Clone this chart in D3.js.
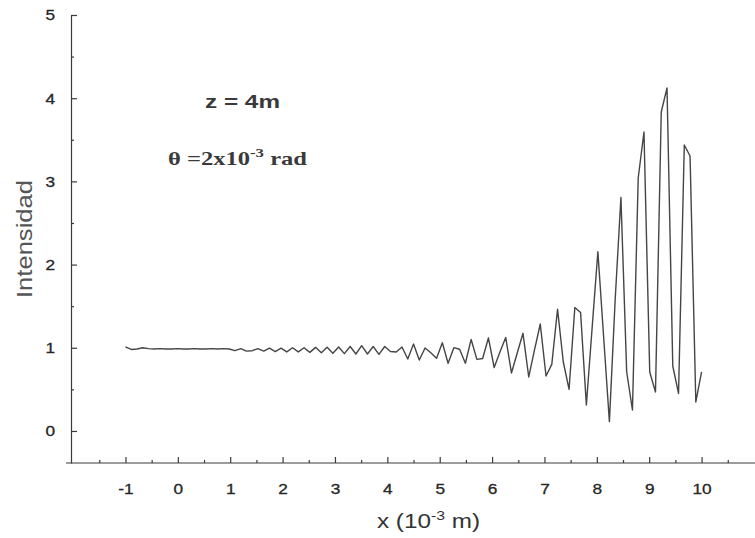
<!DOCTYPE html>
<html>
<head>
<meta charset="utf-8">
<script src="https://cdn.jsdelivr.net/npm/d3@7"></script>
<style>
  body { margin: 0; background: #fff; }
  svg { display: block; }
</style>
</head>
<body>
<script>
// sample positions along x (10^-3 m)
const xValues = [
  -1, -0.89, -0.78, -0.67, -0.56, -0.45, -0.34, -0.23, -0.12, -0.01,
  0.1, 0.21, 0.32, 0.43, 0.54, 0.65, 0.76, 0.87, 0.98, 1.09,
  1.2, 1.31, 1.42, 1.53, 1.64, 1.75, 1.86, 1.97, 2.08, 2.19,
  2.3, 2.41, 2.52, 2.63, 2.74, 2.85, 2.96, 3.07, 3.18, 3.29,
  3.4, 3.51, 3.62, 3.73, 3.84, 3.95, 4.06, 4.17, 4.28, 4.39,
  4.5, 4.61, 4.72, 4.83, 4.94, 5.05, 5.16, 5.27, 5.38, 5.49,
  5.6, 5.71, 5.82, 5.93, 6.04, 6.15, 6.26, 6.37, 6.48, 6.59,
  6.7, 6.81, 6.92, 7.03, 7.14, 7.25, 7.36, 7.47, 7.58, 7.69,
  7.8, 7.91, 8.02, 8.13, 8.24, 8.35, 8.46, 8.57, 8.68, 8.79,
  8.9, 9.01, 9.12, 9.23, 9.34, 9.45, 9.56, 9.67, 9.78, 9.89,
  10.0
];

// intensity
const intensity = [
  1.01, 0.98, 0.985, 1.0, 0.99, 0.985, 0.99, 0.985, 0.985, 0.99,
  0.985, 0.985, 0.99, 0.985, 0.985, 0.99, 0.985, 0.99, 0.985, 0.965,
  0.99, 0.96, 0.965, 0.99, 0.96, 0.995, 0.955, 0.995, 0.95, 1.0,
  0.95, 1.0, 0.945, 1.005, 0.94, 1.005, 0.935, 1.01, 0.93, 1.015,
  0.925, 1.025, 0.925, 1.015, 0.92, 1.015, 0.955, 0.95, 1.01, 0.865,
  1.045, 0.853, 0.998, 0.94, 0.875, 1.061, 0.814, 1.001, 0.982, 0.814,
  1.10, 0.86, 0.871, 1.118, 0.763, 0.95, 1.124, 0.697, 0.937, 1.174,
  0.649, 0.974, 1.286, 0.661, 0.80, 1.463, 0.829, 0.501, 1.484, 1.424,
  0.3125, 1.238, 2.155, 1.13, 0.112, 1.575, 2.806, 0.709, 0.252, 3.041,
  3.594, 0.709, 0.469, 3.834, 4.123, 0.781, 0.451, 3.438, 3.305, 0.349,
  0.709
];

const xMajorTicks = [-1, 0, 1, 2, 3, 4, 5, 6, 7, 8, 9, 10];
const xMinorTicks = [-1.5, -0.5, 0.5, 1.5, 2.5, 3.5, 4.5, 5.5, 6.5, 7.5, 8.5, 9.5, 10.5];
const yMajorTicks = [0, 1, 2, 3, 4, 5];
const yMinorTicks = [0.5, 1.5, 2.5, 3.5, 4.5];

const width = 755;
const height = 538;
const ink = "#3a3a3a";
const sans = "'Liberation Sans', Arial, Helvetica, sans-serif";
const serif = "'Liberation Serif', 'Times New Roman', serif";

const svg = d3.select("body")
  .append("svg")
  .attr("width", width)
  .attr("height", height);

const x = d3.scaleLinear().domain([-2.04, 11.02]).range([71, 755]);
const y = d3.scaleLinear().domain([-0.385, 5]).range([463, 15]);

// x axis (ticks point inward / up)
svg.append("g")
  .attr("transform", `translate(0,${y(-0.385)})`)
  .call(d3.axisBottom(x).tickValues(xMinorTicks).tickSize(-3).tickFormat(""))
  .call(g => g.select(".domain").remove());

const xAxis = svg.append("g")
  .attr("transform", `translate(0,${y(-0.385)})`)
  .call(d3.axisBottom(x).tickValues(xMajorTicks).tickSize(-6).tickPadding(20).tickSizeOuter(0)
    .tickFormat(d => String(d)));
xAxis.select(".domain").attr("d", `M66,0H${width}`);

// y axis (ticks point right)
svg.append("g")
  .attr("transform", `translate(${x(-2.04)},0)`)
  .call(d3.axisLeft(y).tickValues(yMinorTicks).tickSize(-3).tickFormat(""))
  .call(g => g.select(".domain").remove());

const yAxis = svg.append("g")
  .attr("transform", `translate(${x(-2.04)},0)`)
  .call(d3.axisLeft(y).tickValues(yMajorTicks).tickSize(-6).tickPadding(16).tickSizeOuter(0)
    .tickFormat(d => String(d)));

svg.selectAll(".domain, .tick line")
  .attr("stroke", ink)
  .attr("stroke-width", 1.2);

svg.selectAll(".tick text")
  .attr("fill", "#262626")
  .attr("stroke", "#262626")
  .attr("stroke-width", 0.3)
  .style("font-family", sans)
  .style("font-size", "15px");

// the scan is a bit wide: stretch the digits sideways
xAxis.selectAll(".tick text").attr("transform", "scale(1.15,1)");
yAxis.selectAll(".tick text").attr("transform", "scale(1.15,1)")
  .attr("x", -16 / 1.15);

// the intensity curve
const points = xValues.map((v, i) => [v, intensity[i]]);
svg.append("path")
  .datum(points)
  .attr("fill", "none")
  .attr("stroke", "#454545")
  .attr("stroke-width", 1.4)
  .attr("stroke-linejoin", "round")
  .attr("d", d3.line().x(d => x(d[0])).y(d => y(d[1])));

// axis titles
const xTitle = svg.append("text")
  .attr("x", 377)
  .attr("y", 528)
  .attr("textLength", 103)
  .attr("lengthAdjust", "spacingAndGlyphs")
  .attr("fill", "#333")
  .style("font-family", sans)
  .style("font-size", "20px");
xTitle.append("tspan").text("x (10");
xTitle.append("tspan").attr("dy", -8).style("font-size", "13px").text("-3");
xTitle.append("tspan").attr("dy", 8).text(" m)");

svg.append("text")
  .attr("transform", "translate(32,239) rotate(-90)")
  .attr("text-anchor", "middle")
  .attr("textLength", 118)
  .attr("lengthAdjust", "spacingAndGlyphs")
  .attr("fill", "#555")
  .style("font-family", sans)
  .style("font-size", "22px")
  .text("Intensidad");

// annotations
svg.append("text")
  .attr("x", 205)
  .attr("y", 108)
  .attr("textLength", 75)
  .attr("lengthAdjust", "spacingAndGlyphs")
  .attr("fill", "#3a3a3a")
  .style("font-family", sans)
  .style("font-size", "18px")
  .style("font-weight", "bold")
  .text("z = 4m");

const theta = svg.append("text")
  .attr("x", 168)
  .attr("y", 165)
  .attr("textLength", 139)
  .attr("lengthAdjust", "spacingAndGlyphs")
  .attr("fill", "#3a3a3a")
  .style("font-family", serif)
  .style("font-size", "19px")
  .style("font-weight", "bold");
theta.append("tspan").text("\u03B8 =2x10");
theta.append("tspan").attr("dy", -8).style("font-size", "13px").text("-3");
theta.append("tspan").attr("dy", 8).text(" rad");
</script>
</body>
</html>
